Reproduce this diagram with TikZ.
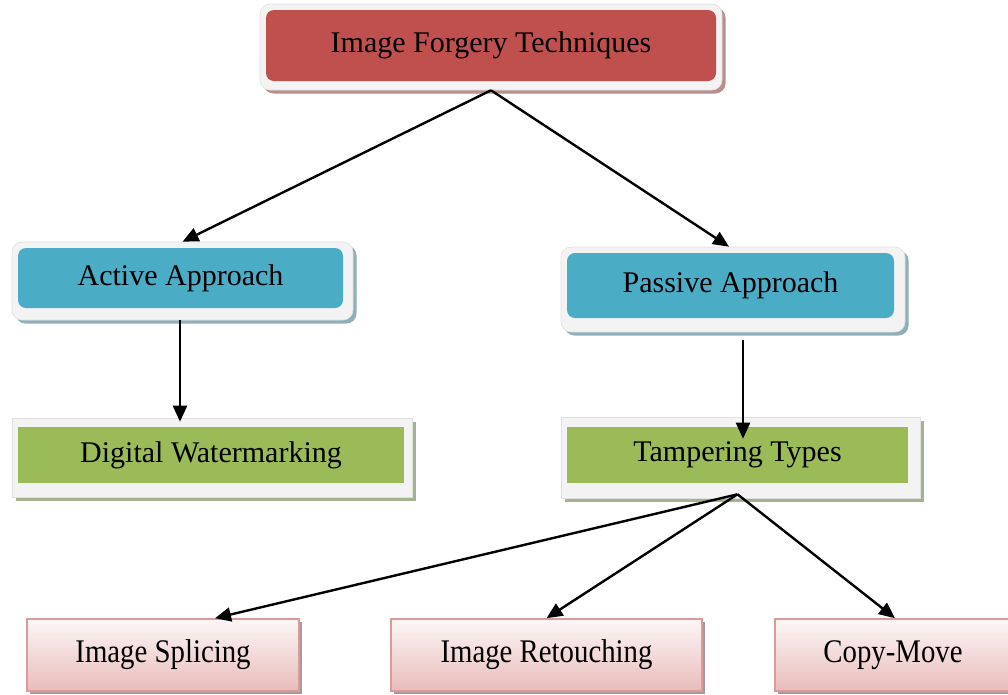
\documentclass[tikz,border=0pt]{standalone}
\usepackage{fontspec}
\usepackage{graphicx}
\setmainfont{Liberation Serif}
\usetikzlibrary{arrows.meta}
\definecolor{redbox}{HTML}{C0504D}
\definecolor{bluebox}{HTML}{4BACC6}
\definecolor{greenbox}{HTML}{9BBB59}
\definecolor{redsh}{HTML}{B98E8E}
\definecolor{bluesh}{HTML}{8FAFB9}
\definecolor{greensh}{HTML}{A3B38E}
\definecolor{pinkdraw}{HTML}{DC9A98}
\definecolor{pinktop}{HTML}{FDF6F6}
\definecolor{pinkbot}{HTML}{E8BCBB}
\definecolor{pinksh}{HTML}{A89A9A}
\definecolor{frameclr}{HTML}{F3F3F3}
\begin{document}
\begin{tikzpicture}[x=1pt,y=-1pt,
  font=\fontsize{30}{36}\selectfont,
  frame/.style={fill=frameclr, draw=black!12, line width=0.6pt, inner sep=0pt,
    preaction={fill=#1, transform canvas={xshift=3.5pt,yshift=-3.5pt}}},
  inbox/.style={inner sep=0pt, text=black},
  pinkbox/.style={draw=pinkdraw, line width=1.6pt, top color=pinktop, bottom color=pinkbot,
    inner sep=0pt, minimum height=72pt,
    preaction={fill=pinksh, transform canvas={xshift=3pt,yshift=-3pt}}},
  arr/.style={line width=2.4pt, -{Triangle[length=16pt,width=14pt]}}
]
\useasboundingbox (0,0) rectangle (1008,694);
\clip (0,0) rectangle (1008,694);

% top
\node[frame=redsh, rounded corners=10pt, minimum width=462pt, minimum height=86pt] (topf) at (491,47) {};
\node[inbox, fill=redbox, rounded corners=8pt, minimum width=450pt, minimum height=71pt] (top) at (491,45.5) {Image Forgery Techniques};

% active / passive
\node[frame=bluesh, rounded corners=10pt, minimum width=341pt, minimum height=78pt] (actf) at (182.5,281) {};
\node[inbox, fill=bluebox, rounded corners=8pt, minimum width=325pt, minimum height=60pt] (act) at (180.5,278) {Active Approach};

\node[frame=bluesh, rounded corners=10pt, minimum width=344pt, minimum height=85pt] (pasf) at (733,289.5) {};
\node[inbox, fill=bluebox, rounded corners=8pt, minimum width=327pt, minimum height=65pt] (pas) at (730.5,285.5) {Passive Approach};

% green
\node[frame=greensh, minimum width=400pt, minimum height=79pt] (dwf) at (212,457.5) {};
\node[inbox, fill=greenbox, minimum width=386pt, minimum height=56pt] (dw) at (211,455) {Digital Watermarking};

\node[frame=greensh, minimum width=359pt, minimum height=81pt] (ttf) at (740.5,457.5) {};
\node[inbox, fill=greenbox, minimum width=341pt, minimum height=56pt] (tt) at (737.5,455) {Tampering Types};

% bottom
\node[pinkbox, minimum width=272pt] (spl) at (163,655) {\scalebox{0.96}[1.1]{Image Splicing}};
\node[pinkbox, minimum width=311pt] (ret) at (546.5,655) {\scalebox{0.96}[1.1]{Image Retouching}};
\node[pinkbox, minimum width=236pt] (cm) at (893,655) {\scalebox{0.96}[1.1]{Copy-Move}};

% connectors
\draw[arr] (topf.south) -- (actf.north);
\draw[arr] (topf.south) -- ([xshift=-4pt]pasf.north);
\draw[arr] ([xshift=-2.5pt]actf.south) -- ([xshift=-2.5pt,yshift=-4pt]actf.south |- dwf.north);
\draw[arr] ([xshift=10pt,yshift=-8pt]pasf.south) -- ([xshift=2.5pt,yshift=-22pt]ttf.north);
\draw[arr] ([xshift=-3pt,yshift=4pt]ttf.south) -- ([xshift=52pt]spl.north);
\draw[arr] ([xshift=-3pt,yshift=4pt]ttf.south) -- (ret.north);
\draw[arr] ([xshift=-3pt,yshift=4pt]ttf.south) -- ([xshift=2pt]cm.north);
\end{tikzpicture}
\end{document}
